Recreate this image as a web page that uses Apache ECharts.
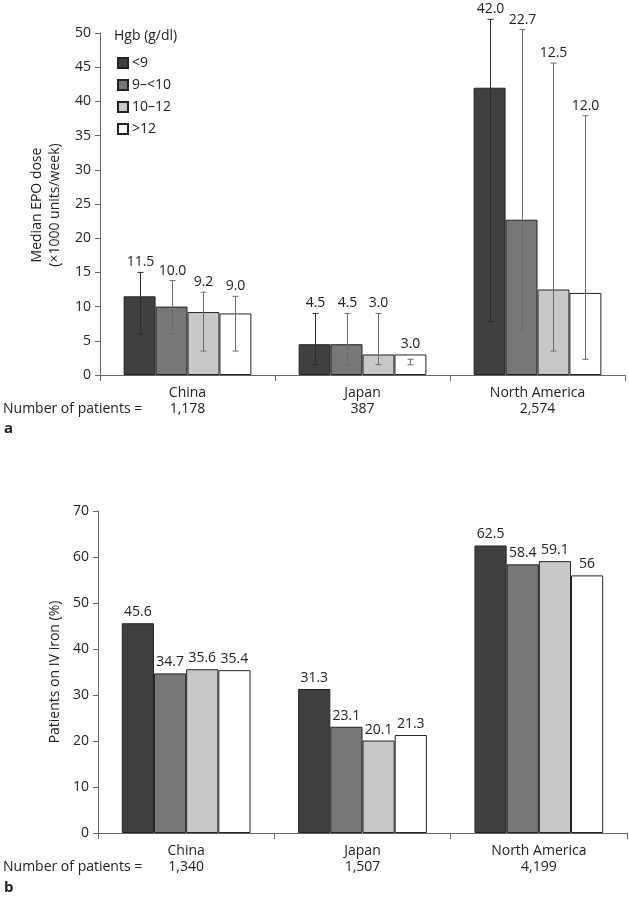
<!DOCTYPE html>
<html>
<head>
<meta charset="utf-8">
<script src="https://cdn.jsdelivr.net/npm/echarts@6/dist/echarts.min.js"></script>
<style>
html, body { margin: 0; padding: 0; background: #fff; }
#main { width: 629px; height: 900px; }
</style>
</head>
<body>
<div id="main"></div>
<script>
var regions = ['China', 'Japan', 'North America'];
var hgbGroups = ['<9', '9–<10', '10–12', '>12'];
var hgbColors = ['#404040', '#777777', '#c8c8c8', '#ffffff'];
var errColors = ['#2b2b2b', '#6a6a6a', '#6a6a6a', '#6a6a6a'];
var epoPatients = ['1,178', '387', '2,574'];
var ironPatients = ['1,340', '1,507', '4,199'];

// panel a: median EPO dose, one row per Hgb group, one value per region
var epoMedian = [[11.5, 4.5, 42.0], [10.0, 4.5, 22.7], [9.2, 3.0, 12.5], [9.0, 3.0, 12.0]];
var epoLow = [[6.0, 1.5, 7.8], [6.0, 1.5, 6.6], [3.5, 1.5, 3.5], [3.5, 1.5, 2.3]];
var epoHigh = [[15.0, 9.0, 52.0], [13.8, 9.0, 50.5], [12.1, 9.0, 45.6], [11.5, 2.3, 37.9]];

// panel b: patients on IV iron (%)
var ironPct = [[45.6, 31.3, 62.5], [34.7, 23.1, 58.4], [35.6, 20.1, 59.1], [35.4, 21.3, 56]];

var FONT = '"Open Sans", "Noto Sans", sans-serif';
var catGap = 0.27;

var chart = echarts.init(document.getElementById('main'));

function barSeries(si, axis, values, withLabel) {
    return {
        type: 'bar',
        name: hgbGroups[si],
        xAxisIndex: axis,
        yAxisIndex: axis,
        data: values[si],
        barGap: 0,
        barCategoryGap: (catGap * 100) + '%',
        itemStyle: { color: hgbColors[si], borderColor: '#222', borderWidth: 1 },
        label: {
            show: withLabel,
            position: 'top',
            distance: 4,
            color: '#222',
            fontSize: 14,
            fontFamily: FONT
        },
        emphasis: { disabled: true }
    };
}

// error bar + value label for panel a
function errorSeries(si) {
    return {
        type: 'custom',
        xAxisIndex: 0,
        yAxisIndex: 0,
        z: 5,
        data: regions.map(function (r, ci) {
            return [ci, epoLow[si][ci], epoHigh[si][ci], epoMedian[si][ci]];
        }),
        encode: { x: 0, y: [1, 2] },
        renderItem: function (params, api) {
            var ci = api.value(0);
            var lo = api.coord([ci, api.value(1)]);
            var hi = api.coord([ci, api.value(2)]);
            var top = api.coord([ci, Math.max(api.value(2), api.value(3))]);
            var barW = api.size([1, 0])[0] * (1 - catGap) / 4;
            var x = Math.round(lo[0] + (si - 1.5) * barW) + 0.5;
            var st = { stroke: errColors[si], lineWidth: 1 };
            return {
                type: 'group',
                children: [
                    { type: 'line', shape: { x1: x, y1: lo[1], x2: x, y2: hi[1] }, style: st },
                    { type: 'line', shape: { x1: x - 3, y1: lo[1], x2: x + 3, y2: lo[1] }, style: st },
                    { type: 'line', shape: { x1: x - 3, y1: hi[1], x2: x + 3, y2: hi[1] }, style: st },
                    {
                        type: 'text',
                        style: {
                            text: api.value(3).toFixed(1),
                            x: x,
                            y: top[1] - 3,
                            align: 'center',
                            verticalAlign: 'bottom',
                            fill: '#222',
                            fontSize: 14,
                            fontFamily: FONT
                        }
                    }
                ]
            };
        }
    };
}

function xAxisFor(grid, patients) {
    return {
        type: 'category',
        gridIndex: grid,
        data: regions,
        axisLine: { lineStyle: { color: '#666' } },
        axisTick: { show: true, length: 6, lineStyle: { color: '#666' } },
        axisLabel: {
            color: '#222',
            fontSize: 14,
            fontFamily: FONT,
            margin: 10,
            lineHeight: 16,
            formatter: function (v, i) { return v + '\n' + patients[i]; }
        }
    };
}

function yAxisFor(grid, max, step) {
    return {
        type: 'value',
        gridIndex: grid,
        min: 0,
        max: max,
        interval: step,
        splitLine: { show: false },
        axisLine: { show: true, lineStyle: { color: '#666' } },
        axisTick: { show: true, length: 5, lineStyle: { color: '#666' } },
        axisLabel: { color: '#222', fontSize: 14, fontFamily: FONT, margin: 9 }
    };
}

var series = [];
for (var i = 0; i < 4; i++) series.push(barSeries(i, 0, epoMedian, false));
for (var i = 0; i < 4; i++) series.push(errorSeries(i));
for (var i = 0; i < 4; i++) series.push(barSeries(i, 1, ironPct, true));

function txt(x, y, s, extra) {
    var st = { text: s, x: x, y: y, fill: '#222', fontSize: 14, fontFamily: FONT, verticalAlign: 'middle' };
    for (var k in extra) st[k] = extra[k];
    return { type: 'text', style: st };
}

chart.setOption({
    animation: false,
    backgroundColor: '#fff',
    grid: [
        { left: 100, top: 33, width: 525, height: 342 },
        { left: 98, top: 511, width: 529, height: 322 }
    ],
    xAxis: [xAxisFor(0, epoPatients), xAxisFor(1, ironPatients)],
    yAxis: [yAxisFor(0, 50, 5), yAxisFor(1, 70, 10)],
    legend: {
        data: hgbGroups,
        orient: 'vertical',
        left: 112,
        top: 51,
        icon: 'rect',
        itemWidth: 10,
        itemHeight: 10,
        itemGap: 8,
        selectedMode: false,
        textStyle: { color: '#222', fontSize: 14, fontFamily: FONT, padding: [0, 0, 0, -1] }
    },
    graphic: [
        txt(114, 36, 'Hgb (g/dl)'),
        {
            type: 'text', x: 37, y: 205, rotation: Math.PI / 2,
            style: { text: 'Median EPO dose', fill: '#222', fontSize: 14, fontFamily: FONT, align: 'center', verticalAlign: 'middle' }
        },
        {
            type: 'text', x: 55, y: 205, rotation: Math.PI / 2,
            style: { text: '(×1000 units/week)', fill: '#222', fontSize: 14, fontFamily: FONT, align: 'center', verticalAlign: 'middle' }
        },
        {
            type: 'text', x: 55, y: 672, rotation: Math.PI / 2,
            style: { text: 'Patients on IV iron (%)', fill: '#222', fontSize: 14, fontFamily: FONT, align: 'center', verticalAlign: 'middle' }
        },
        txt(3, 409, 'Number of patients ='),
        txt(4, 429, 'a', { fontWeight: 'bold', fontSize: 15 }),
        txt(3, 867, 'Number of patients ='),
        txt(4, 888, 'b', { fontWeight: 'bold', fontSize: 15 })
    ],
    series: series
});
</script>
</body>
</html>
